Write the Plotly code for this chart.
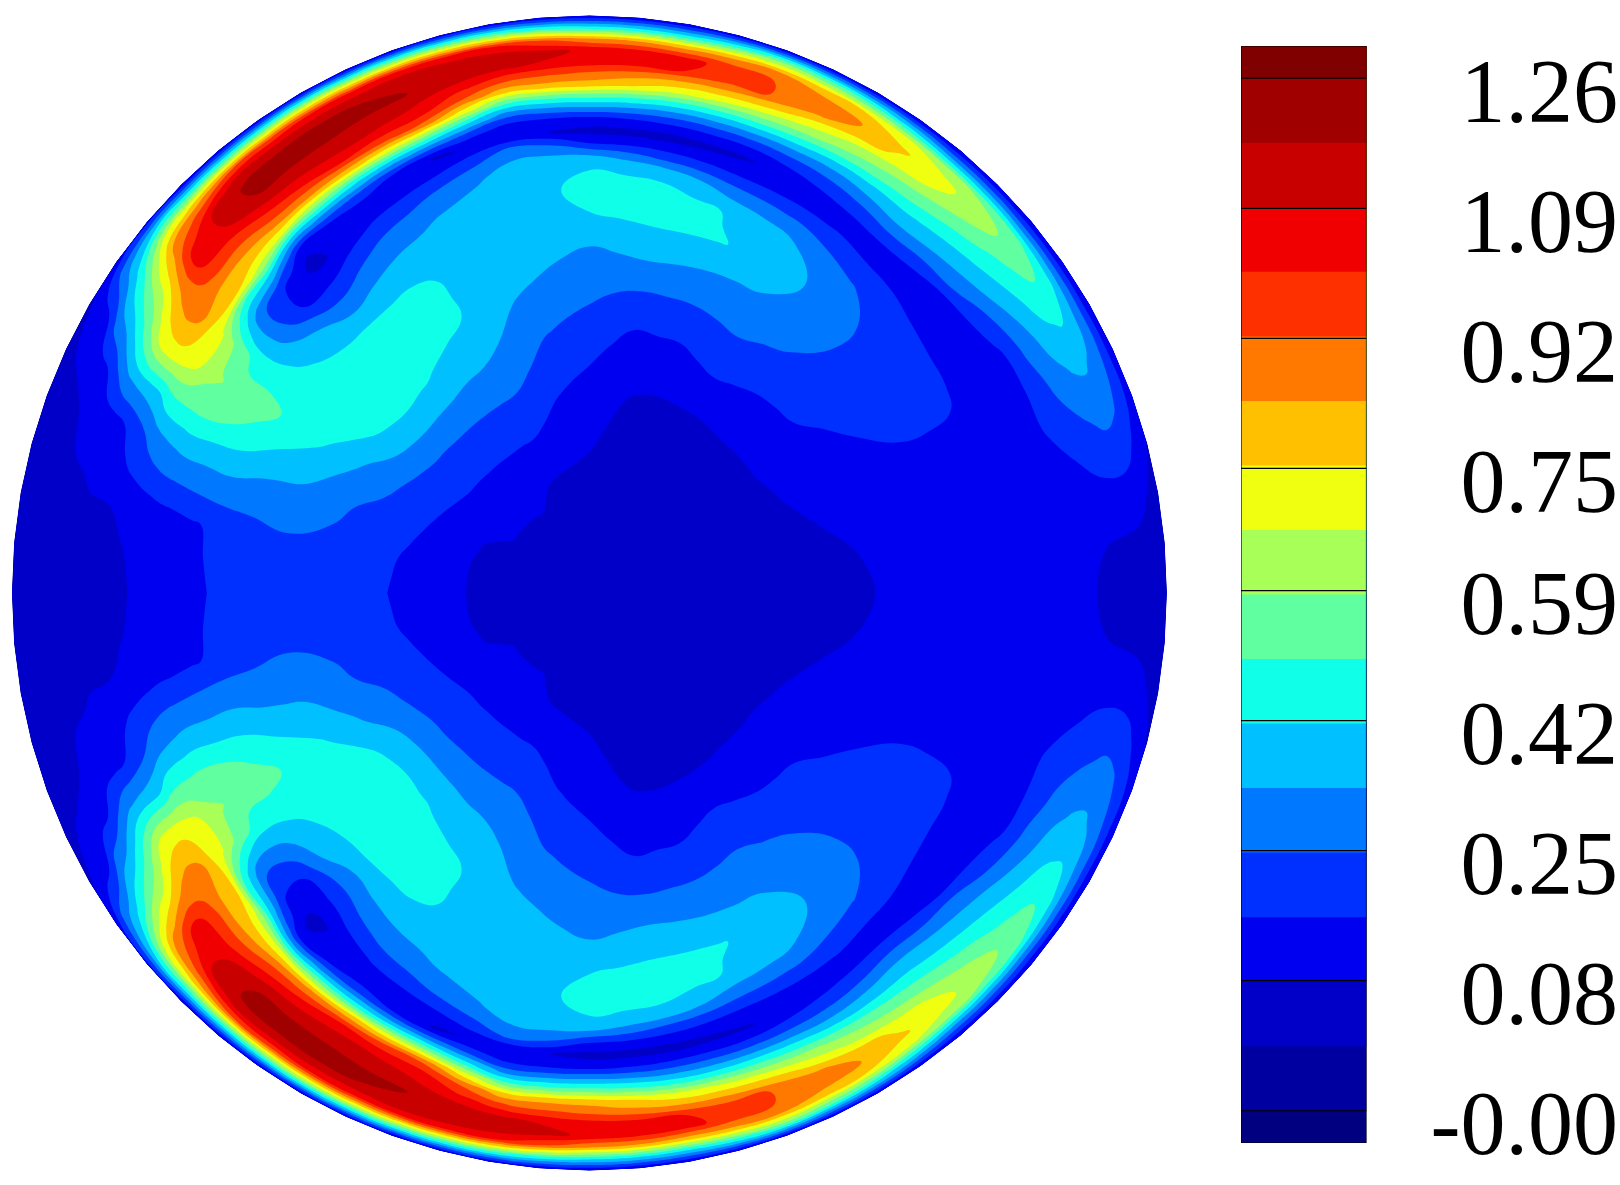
import numpy as np
import plotly.graph_objects as go

# radial stations on the disk (0 centre, 1 rim)
radii = [0, .2, .35, .46, .53, .6, .65, .7, .74, .76, .78, .8, .82, .84, .86, .88, .9, .92, .94, .96, .98, 1]
# rays, degrees from +x, upper half only (lower half is its mirror image)
angles = list(range(0, 185, 5))

# field, in colour-band units (one row per ray, one column per radius)
field_bands = [
    [2.6, 2.4, 2.5, 2.8, 3.2, 3.4, 3.4, 3.4, 3.4, 3.4, 3.4, 3.4, 3.3, 3.2, 3.1, 3.0, 2.9, 2.8, 2.8, 2.7, 2.6, 2.6],
    [2.6, 2.4, 2.55, 2.9, 3.2, 3.4, 3.4, 3.4, 3.4, 3.4, 3.45, 3.45, 3.4, 3.3, 3.2, 3.1, 3.0, 2.9, 2.85, 2.8, 2.7, 2.6],
    [2.6, 2.4, 2.6, 3.0, 3.2, 3.4, 3.4, 3.4, 3.4, 3.4, 3.45, 3.45, 3.45, 3.45, 3.45, 3.45, 3.5, 3.5, 3.45, 3.3, 3.0, 2.7],
    [2.6, 2.4, 2.7, 3.15, 3.35, 3.5, 3.55, 3.5, 3.45, 3.45, 3.45, 3.5, 3.6, 3.7, 3.85, 4.05, 4.3, 4.5, 4.6, 4.4, 3.7, 2.9],
    [2.6, 2.45, 2.8, 3.3, 3.5, 3.6, 3.7, 3.6, 3.5, 3.5, 3.5, 3.6, 3.8, 4.1, 4.4, 4.7, 5.0, 5.2, 5.4, 5.2, 4.5, 3.2],
    [2.6, 2.45, 2.9, 3.4, 3.7, 3.9, 3.95, 3.9, 3.6, 3.4, 3.4, 3.5, 3.8, 4.15, 4.7, 5.3, 5.7, 6.1, 6.2, 5.8, 4.8, 3.1],
    [2.6, 2.5, 2.95, 3.5, 3.95, 4.5, 4.5, 4.2, 3.6, 3.3, 3.3, 3.5, 3.8, 4.3, 5.2, 5.7, 6.5, 6.9, 7.1, 6.5, 5.0, 3.0],
    [2.6, 2.5, 3.0, 3.8, 4.2, 4.55, 4.5, 4.2, 3.75, 3.45, 3.45, 3.7, 4.35, 5.0, 5.8, 6.4, 7.05, 7.6, 8.0, 7.4, 5.3, 3.0],
    [2.6, 2.5, 3.0, 4.0, 4.5, 4.6, 4.5, 4.2, 3.9, 3.5, 3.7, 3.9, 5.0, 5.7, 6.4, 7.05, 7.7, 8.3, 8.8, 8.3, 5.5, 3.0],
    [2.6, 2.5, 3.0, 4.05, 4.7, 5.0, 5.05, 4.7, 4.0, 3.65, 3.65, 4.2, 5.2, 6.05, 6.75, 7.55, 8.4, 9.2, 9.6, 8.9, 5.8, 3.0],
    [2.6, 2.5, 3.0, 4.1, 4.9, 5.4, 5.5, 5.1, 4.1, 3.8, 3.6, 4.5, 5.4, 6.4, 7.1, 8.1, 9.05, 10.1, 10.4, 9.5, 6.0, 3.0],
    [2.6, 2.45, 2.95, 4.25, 5.05, 5.7, 6.0, 5.6, 4.5, 3.95, 3.45, 4.15, 5.0, 6.0, 7.05, 8.4, 9.4, 10.8, 11.2, 10.2, 6.7, 3.0],
    [2.6, 2.4, 2.9, 4.4, 5.2, 6.0, 6.5, 6.1, 4.9, 4.1, 3.3, 3.8, 4.6, 5.6, 7.0, 8.7, 9.8, 11.5, 12.1, 11.0, 7.5, 3.0],
    [2.6, 2.45, 2.9, 4.2, 5.1, 6.05, 6.9, 6.6, 5.1, 4.2, 3.35, 3.3, 4.3, 5.55, 7.3, 9.1, 10.6, 12.3, 12.6, 11.5, 8.0, 3.0],
    [2.6, 2.5, 2.9, 4.0, 5.0, 6.1, 7.05, 6.95, 5.4, 4.3, 3.4, 2.9, 4.0, 5.5, 7.5, 9.5, 11.5, 13.0, 13.0, 12.0, 8.5, 3.0],
    [2.6, 2.55, 2.95, 4.0, 5.0, 6.2, 7.1, 7.2, 6.0, 4.7, 3.5, 2.75, 3.9, 5.5, 7.5, 9.9, 11.8, 13.5, 13.7, 11.8, 7.7, 3.0],
    [2.6, 2.6, 3.05, 3.95, 5.0, 6.3, 7.1, 7.5, 6.6, 5.0, 3.7, 2.6, 3.8, 5.5, 7.6, 10.2, 12.0, 14.1, 14.3, 11.5, 7.0, 3.0],
    [2.6, 2.65, 3.3, 4.25, 5.1, 6.15, 7.0, 7.45, 6.75, 5.5, 3.8, 2.65, 3.65, 5.65, 8.0, 10.9, 12.4, 14.4, 14.6, 11.8, 7.1, 3.0],
    [2.6, 2.75, 3.6, 4.6, 5.3, 6.0, 6.9, 7.4, 6.9, 5.9, 3.9, 2.7, 3.5, 5.8, 8.3, 11.5, 12.8, 14.6, 14.8, 12.0, 7.2, 3.0],
    [2.6, 2.8, 3.85, 4.85, 5.5, 6.2, 6.8, 6.9, 6.7, 6.0, 4.9, 3.0, 3.55, 5.6, 8.2, 11.5, 13.1, 14.9, 15.3, 13.0, 7.8, 3.0],
    [2.6, 2.85, 4.1, 5.1, 5.8, 6.5, 6.7, 6.7, 6.5, 6.0, 5.4, 3.3, 3.6, 5.4, 8.2, 11.4, 13.4, 15.1, 15.7, 14.0, 8.5, 3.0],
    [2.6, 2.9, 4.5, 5.6, 6.1, 6.6, 6.7, 6.5, 5.9, 5.2, 4.3, 3.05, 4.5, 7.2, 10.5, 13.0, 14.3, 15.6, 15.85, 14.3, 8.8, 3.0],
    [2.6, 3.0, 4.8, 6.0, 6.4, 6.7, 6.6, 6.2, 5.3, 4.5, 3.5, 2.9, 5.6, 9.0, 12.8, 14.5, 15.2, 16.0, 15.9, 14.5, 9.0, 3.0],
    [2.6, 3.05, 4.85, 6.4, 7.05, 6.95, 6.5, 5.8, 4.7, 3.9, 3.5, 3.9, 6.5, 10.2, 13.4, 14.9, 15.6, 16.3, 15.9, 14.2, 9.0, 3.0],
    [2.6, 3.1, 4.9, 6.6, 7.4, 7.2, 6.4, 5.4, 4.2, 3.4, 3.6, 5.0, 7.5, 11.3, 14.0, 15.2, 15.9, 16.5, 15.9, 14.0, 9.0, 3.0],
    [2.6, 3.1, 4.95, 6.9, 7.5, 7.1, 6.0, 4.7, 3.4, 3.1, 3.7, 5.7, 8.8, 12.0, 13.9, 15.15, 16.0, 16.4, 15.8, 13.5, 8.5, 3.0],
    [2.6, 3.1, 5.0, 7.1, 7.5, 7.0, 5.5, 3.9, 2.7, 3.0, 3.9, 6.5, 10.2, 12.5, 13.8, 15.1, 16.0, 16.2, 15.7, 13.0, 8.0, 3.0],
    [2.6, 3.1, 5.0, 7.3, 7.5, 7.0, 6.0, 4.0, 3.9, 4.9, 6.8, 9.5, 11.1, 12.2, 13.4, 14.4, 15.05, 15.2, 13.8, 11.5, 7.5, 3.0],
    [2.6, 3.1, 5.0, 7.2, 7.6, 7.3, 6.5, 5.5, 5.3, 6.3, 7.9, 11.0, 11.5, 12.5, 13.5, 14.1, 14.0, 13.0, 12.0, 10.0, 7.0, 3.5],
    [2.6, 3.1, 4.85, 6.9, 7.6, 7.5, 7.4, 7.5, 8.6, 9.3, 10.3, 10.95, 12.0, 12.3, 12.0, 11.2, 10.0, 9.2, 8.0, 6.7, 5.5, 3.3],
    [2.6, 3.05, 4.7, 6.2, 7.2, 7.8, 8.4, 8.6, 9.1, 9.4, 10.0, 10.4, 10.6, 10.5, 10.0, 8.8, 7.5, 6.3, 5.5, 4.0, 3.3, 2.9],
    [2.6, 3.0, 4.55, 5.75, 6.5, 7.1, 7.7, 8.05, 8.2, 8.1, 8.0, 7.75, 7.0, 6.6, 6.3, 5.9, 5.0, 4.0, 3.5, 3.1, 3.0, 2.8],
    [2.6, 2.95, 4.4, 5.2, 5.9, 6.1, 6.4, 6.4, 6.4, 6.2, 6.0, 5.6, 5.0, 4.4, 3.9, 3.6, 3.4, 3.2, 3.0, 2.9, 2.8, 2.7],
    [2.6, 2.9, 4.25, 5.0, 5.3, 5.4, 5.4, 5.2, 5.0, 4.9, 4.7, 4.4, 4.1, 3.8, 3.5, 3.3, 3.1, 3.0, 2.9, 2.85, 2.75, 2.65],
    [2.6, 2.9, 4.1, 4.7, 4.9, 4.5, 4.2, 3.9, 3.6, 3.5, 3.3, 3.2, 3.1, 3.0, 2.9, 2.9, 2.8, 2.8, 2.7, 2.7, 2.6, 2.6],
    [2.6, 2.9, 4.05, 4.6, 4.7, 4.4, 4.15, 3.8, 3.5, 3.4, 3.2, 3.05, 2.95, 2.85, 2.8, 2.75, 2.7, 2.7, 2.65, 2.6, 2.55, 2.55],
    [2.6, 2.9, 4.0, 4.5, 4.6, 4.4, 4.1, 3.7, 3.4, 3.3, 3.1, 3.0, 2.9, 2.8, 2.7, 2.7, 2.6, 2.6, 2.6, 2.5, 2.5, 2.5],
]

band_colors = ['#000080', '#0000a0', '#0000c8', '#0000f0', '#0030ff', '#0078ff', '#00c0ff', '#10ffe8', '#60ffa0',
               '#a8ff58', '#f0ff10', '#ffc000', '#ff7800', '#ff3000', '#f00000', '#c80000', '#a00000', '#800000']

tick_values = [-0.09, 0.08, 0.25, 0.42, 0.59, 0.75, 0.92, 1.09, 1.26]
tick_labels = ['-0.00', '0.08', '0.25', '0.42', '0.59', '0.75', '0.92', '1.09', '1.26']

W, H = 1620, 1185
CX, CY, R = 589.4, 593.0, 577.5

# level spacing: two colour bands between labelled levels
step = (tick_values[-1] - tick_values[0]) / 16
level0 = tick_values[0]
zmin, zmax = level0 - step, level0 + 17 * step
contours = dict(start=level0, end=tick_values[-1], size=step, coloring='fill', showlines=False)

# stepped colour scale, one flat stretch per band
n = len(band_colors)
colorscale = []
for i, c in enumerate(band_colors):
    colorscale += [[i / n, c], [(i + 1) / n, c]]

upper = np.array(field_bands)
field = np.vstack([upper[:0:-1], upper])  # bottom half mirrors the top
z = level0 + (field - 1) * step

theta = np.radians(np.array([-a for a in angles[:0:-1]] + angles, dtype=float))
r = np.array(radii)
xx = np.outer(np.cos(theta), r)
yy = np.outer(np.sin(theta), r)

fig = go.Figure()

fig.add_trace(go.Carpet(
    a=radii, b=np.degrees(theta).tolist(), x=xx.tolist(), y=yy.tolist(), carpet='disk',
    aaxis=dict(showgrid=False, showticklabels='none', startline=False, endline=False, smoothing=0, minorgridcount=0),
    baxis=dict(showgrid=False, showticklabels='none', startline=False, endline=False, smoothing=0, minorgridcount=0),
    xaxis='x', yaxis='y',
))
fig.add_trace(go.Contourcarpet(
    a=radii, b=np.degrees(theta).tolist(), z=z.tolist(), carpet='disk',
    autocontour=False, contours=contours, line=dict(width=0, smoothing=1.3),
    colorscale=colorscale, zmin=zmin, zmax=zmax, showscale=False,
))

# legend bar, on its own axes so the labels come from a real axis
bar_lo, bar_hi = level0 - step / 2, tick_values[-1] + step / 2
fig.add_trace(go.Contour(
    x=[0, 1], y=[bar_lo, bar_hi], z=[[bar_lo, bar_lo], [bar_hi, bar_hi]],
    autocontour=False, contours=contours, line=dict(width=0, smoothing=0),
    colorscale=colorscale, zmin=zmin, zmax=zmax, showscale=False,
    xaxis='x2', yaxis='y2', hoverinfo='skip',
))
line_x, line_y = [0, 0, 1, 1, 0], [bar_lo, bar_hi, bar_hi, bar_lo, bar_lo]
for v in tick_values:
    line_x += [None, 0, 1]
    line_y += [None, v, v]
fig.add_trace(go.Scatter(
    x=line_x, y=line_y, mode='lines', line=dict(color='black', width=1.2),
    xaxis='x2', yaxis='y2', cliponaxis=False, hoverinfo='skip',
))

fig.update_layout(
    width=W, height=H, margin=dict(l=0, r=0, t=0, b=0),
    paper_bgcolor='white', plot_bgcolor='white', showlegend=False,
    xaxis=dict(domain=[0, 1], range=[-CX / R, (W - CX) / R], visible=False),
    yaxis=dict(domain=[0, 1], range=[(CY - H) / R, CY / R], visible=False),
    xaxis2=dict(domain=[1241 / W, 1366.5 / W], range=[0, 1], anchor='y2', visible=False),
    yaxis2=dict(
        domain=[(H - 1143) / H, (H - 46) / H], range=[bar_lo, bar_hi], anchor='free', position=1618 / W,
        side='left', showgrid=False, zeroline=False, showline=False, ticks='', automargin=False,
        tickmode='array', tickvals=tick_values, ticktext=tick_labels, ticklabelshift=12,
        tickfont=dict(family='Liberation Serif', size=90, color='black'),
    ),
)

# the page's default body margin would push the figure off the 1620x1185 window
fig.write_html('out.html', config={'displayModeBar': False}, post_script="document.body.style.margin = '0';")
